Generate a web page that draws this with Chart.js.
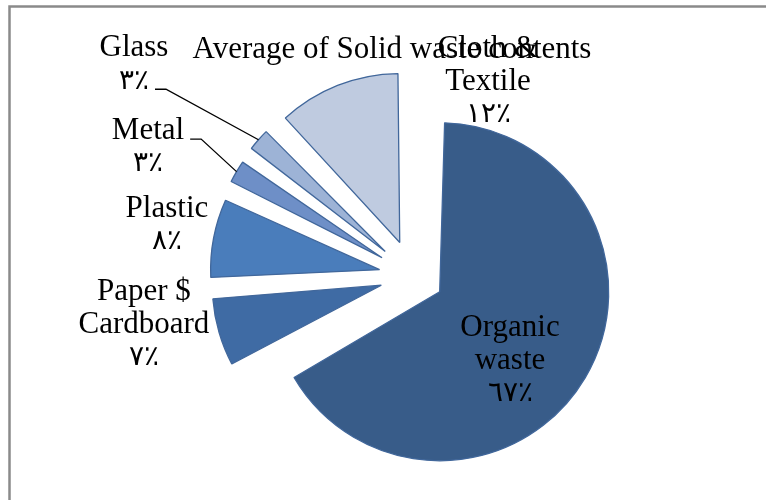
<!DOCTYPE html>
<html>
<head>
<meta charset="utf-8">
<script src="https://cdn.jsdelivr.net/npm/chart.js@4.4.1/dist/chart.umd.min.js"></script>
<style>
  body { margin: 0; background: #fff; }
</style>
</head>
<body>
<canvas id="myChart" width="766" height="500"></canvas>
<script>
// data
var categories = ["Organic waste", "Paper $ Cardboard", "Plastic", "Metal", "Glass", "Cloth & Textile"];
var values = [67, 7, 8, 3, 3, 12];
var labelLines = [["Organic", "waste"], ["Paper $", "Cardboard"], ["Plastic"], ["Metal"], ["Glass"], ["Cloth &", "Textile"]];
var chartTitle = "Average of Solid waste contents";

var sliceColors = ["#385c89", "#3f6ba4", "#4a7dbb", "#6e8fc7", "#9db3d6", "#bfcbe0"];
// Chart.js moves an arc by offset / 4
var sliceOffsets = [124, 132, 136, 144, 148, 144];

// where each label block sits, in radii from the pie centre
var labelPlace = [[0.574, 0.50], [-1.592, 0.29], [-1.456, -0.30], [-1.568, -0.76], [-1.651, -1.25], [0.444, -1.15]];
// which text line the leader line leaves from (-1 = no leader)
var leaderFrom = [-1, -1, -1, 0, 1, -1];

var FONT = "31px 'Liberation Serif', 'Times New Roman', serif";
var PCT_FONT = "200 28px 'DejaVu Sans', 'Liberation Serif', serif";
var LINE_H = 33;

function arabicDigits(n) {
  var d = "٠١٢٣٤٥٦٧٨٩";
  return String(n).replace(/[0-9]/g, function (c) { return d[+c]; }) + "٪";
}

function arcFix(arc) {
  var circ = arc.endAngle - arc.startAngle;
  return 1 - Math.sin(Math.min(Math.PI, circ));
}

// Chart.js grows exploded arcs by offset/4*fix; undo it so every slice keeps the same radius
var sameRadius = {
  id: "sameRadius",
  afterDatasetsUpdate: function (chart) {
    var meta = chart.getDatasetMeta(0);
    var R = meta.controller.outerRadius;
    meta.data.forEach(function (arc) {
      arc.outerRadius = R - (arc.options.offset || 0) / 4 * arcFix(arc);
    });
  }
};

var frame = {
  id: "frame",
  beforeDraw: function (chart) {
    var ctx = chart.ctx;
    ctx.save();
    ctx.strokeStyle = "#8a8a8a";
    ctx.lineWidth = 2.5;
    ctx.beginPath();
    ctx.moveTo(9.5, 500);
    ctx.lineTo(9.5, 6.5);
    ctx.lineTo(766, 6.5);
    ctx.stroke();
    ctx.restore();
  }
};

var pieLabels = {
  id: "pieLabels",
  afterDatasetsDraw: function (chart) {
    var ctx = chart.ctx;
    var meta = chart.getDatasetMeta(0);
    var R = meta.controller.outerRadius;
    var total = values.reduce(function (a, b) { return a + b; }, 0);
    ctx.save();
    ctx.fillStyle = "#000";
    ctx.textAlign = "center";
    ctx.textBaseline = "middle";

    meta.data.forEach(function (arc, i) {
      var lines = labelLines[i].concat([arabicDigits(Math.round(values[i] / total * 100))]);
      var last = lines.length - 1;
      var cx = arc.x + labelPlace[i][0] * R;
      var cy = arc.y + labelPlace[i][1] * R;
      var y0 = cy - last * LINE_H / 2;
      lines.forEach(function (t, k) {
        ctx.font = k === last ? PCT_FONT : FONT;
        ctx.fillText(t, cx, y0 + k * LINE_H);
      });

      if (leaderFrom[i] >= 0) {
        var k = leaderFrom[i];
        ctx.font = k === last ? PCT_FONT : FONT;
        var w = ctx.measureText(lines[k]).width;
        var sx = cx + w / 2 + 6;
        var sy = y0 + k * LINE_H + 8;
        var mid = (arc.startAngle + arc.endAngle) / 2;
        var d = (arc.options.offset || 0) / 4 + R;
        ctx.strokeStyle = "#000";
        ctx.lineWidth = 1.3;
        ctx.beginPath();
        ctx.moveTo(sx, sy);
        ctx.lineTo(sx + 11, sy);
        ctx.lineTo(arc.x + Math.cos(mid) * d, arc.y + Math.sin(mid) * d);
        ctx.stroke();
      }
    });

    ctx.font = FONT;
    ctx.fillText(chartTitle, 392, 50);
    ctx.restore();
  }
};

new Chart("myChart", {
  type: "pie",
  data: {
    labels: categories,
    datasets: [{
      data: values,
      backgroundColor: sliceColors,
      borderColor: "#41679b",
      borderWidth: 1.3,
      offset: sliceOffsets
    }]
  },
  options: {
    responsive: false,
    animation: false,
    radius: 169,
    layout: { padding: { left: 60, right: 0, top: 52, bottom: 0 } },
    plugins: {
      legend: { display: false },
      tooltip: { enabled: false },
      title: { display: false }
    }
  },
  plugins: [sameRadius, frame, pieLabels]
});
</script>
</body>
</html>
